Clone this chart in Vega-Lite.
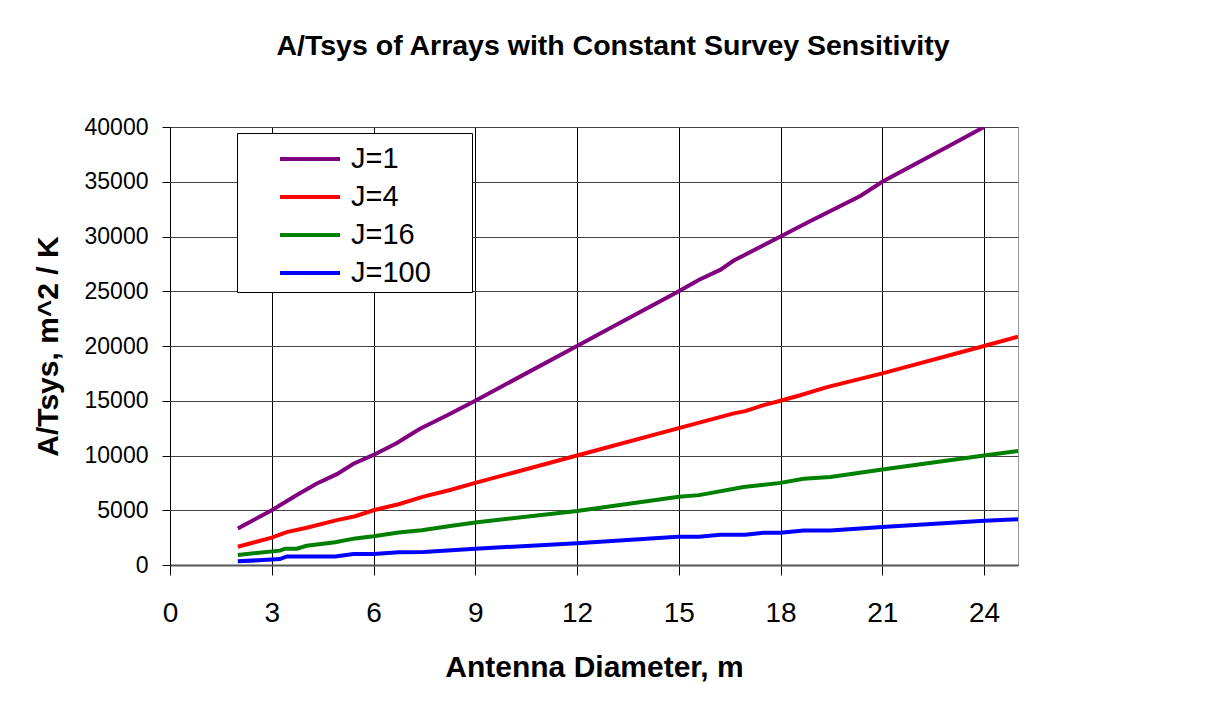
{
  "$schema": "https://vega.github.io/schema/vega-lite/v6.json",
  "width": 848,
  "height": 438,
  "autosize": {"type": "none"},
  "padding": {"left": 170, "top": 127, "right": 191, "bottom": 137},
  "background": "white",
  "title": {
    "text": "A/Tsys of Arrays with Constant Survey Sensitivity",
    "font": "Liberation Sans",
    "fontSize": 28.5,
    "fontWeight": "bold",
    "color": "black",
    "anchor": "middle",
    "dx": 19,
    "offset": 56
  },
  "config": {
    "view": {"stroke": "#999999", "strokeWidth": 1},
    "font": "Liberation Sans",
    "axis": {"labelColor": "black", "titleColor": "black", "labelFont": "Liberation Sans", "titleFont": "Liberation Sans"}
  },
  "data": {
    "values": [
      {"D": 2, "v": 3333, "s": "J=1"},
      {"D": 3, "v": 5000, "s": "J=1"},
      {"D": 3.74, "v": 6400, "s": "J=1"},
      {"D": 4.33, "v": 7450, "s": "J=1"},
      {"D": 4.92, "v": 8300, "s": "J=1"},
      {"D": 5.41, "v": 9250, "s": "J=1"},
      {"D": 6, "v": 10050, "s": "J=1"},
      {"D": 6.69, "v": 11150, "s": "J=1"},
      {"D": 7.37, "v": 12450, "s": "J=1"},
      {"D": 8.16, "v": 13650, "s": "J=1"},
      {"D": 9, "v": 15000, "s": "J=1"},
      {"D": 12, "v": 20000, "s": "J=1"},
      {"D": 12.68, "v": 21150, "s": "J=1"},
      {"D": 15, "v": 25000, "s": "J=1"},
      {"D": 15.6, "v": 26050, "s": "J=1"},
      {"D": 16.22, "v": 26950, "s": "J=1"},
      {"D": 16.62, "v": 27800, "s": "J=1"},
      {"D": 18, "v": 30000, "s": "J=1"},
      {"D": 18.78, "v": 31250, "s": "J=1"},
      {"D": 20.35, "v": 33700, "s": "J=1"},
      {"D": 21, "v": 35000, "s": "J=1"},
      {"D": 23.1, "v": 38500, "s": "J=1"},
      {"D": 24, "v": 40000, "s": "J=1"},

      {"D": 2, "v": 1667, "s": "J=4"},
      {"D": 3, "v": 2500, "s": "J=4"},
      {"D": 3.44, "v": 3000, "s": "J=4"},
      {"D": 4.03, "v": 3400, "s": "J=4"},
      {"D": 4.92, "v": 4100, "s": "J=4"},
      {"D": 5.46, "v": 4450, "s": "J=4"},
      {"D": 6, "v": 5000, "s": "J=4"},
      {"D": 6.74, "v": 5550, "s": "J=4"},
      {"D": 7.47, "v": 6250, "s": "J=4"},
      {"D": 8.26, "v": 6850, "s": "J=4"},
      {"D": 9, "v": 7500, "s": "J=4"},
      {"D": 12, "v": 10000, "s": "J=4"},
      {"D": 15, "v": 12500, "s": "J=4"},
      {"D": 16.62, "v": 13850, "s": "J=4"},
      {"D": 16.96, "v": 14050, "s": "J=4"},
      {"D": 17.5, "v": 14600, "s": "J=4"},
      {"D": 18, "v": 15000, "s": "J=4"},
      {"D": 18.58, "v": 15500, "s": "J=4"},
      {"D": 19.37, "v": 16250, "s": "J=4"},
      {"D": 21, "v": 17500, "s": "J=4"},
      {"D": 24, "v": 20000, "s": "J=4"},
      {"D": 25, "v": 20850, "s": "J=4"},

      {"D": 2, "v": 917, "s": "J=16"},
      {"D": 3.24, "v": 1310, "s": "J=16"},
      {"D": 3.39, "v": 1490, "s": "J=16"},
      {"D": 3.74, "v": 1490, "s": "J=16"},
      {"D": 4.03, "v": 1750, "s": "J=16"},
      {"D": 4.87, "v": 2070, "s": "J=16"},
      {"D": 5.46, "v": 2430, "s": "J=16"},
      {"D": 6, "v": 2630, "s": "J=16"},
      {"D": 6.74, "v": 2960, "s": "J=16"},
      {"D": 7.42, "v": 3180, "s": "J=16"},
      {"D": 8.26, "v": 3570, "s": "J=16"},
      {"D": 9, "v": 3880, "s": "J=16"},
      {"D": 12, "v": 4930, "s": "J=16"},
      {"D": 15, "v": 6230, "s": "J=16"},
      {"D": 15.6, "v": 6380, "s": "J=16"},
      {"D": 16.91, "v": 7130, "s": "J=16"},
      {"D": 18, "v": 7500, "s": "J=16"},
      {"D": 18.68, "v": 7880, "s": "J=16"},
      {"D": 19.47, "v": 8040, "s": "J=16"},
      {"D": 21, "v": 8730, "s": "J=16"},
      {"D": 24, "v": 10000, "s": "J=16"},
      {"D": 25, "v": 10420, "s": "J=16"},

      {"D": 2, "v": 333, "s": "J=100"},
      {"D": 3.24, "v": 540, "s": "J=100"},
      {"D": 3.44, "v": 780, "s": "J=100"},
      {"D": 4.87, "v": 780, "s": "J=100"},
      {"D": 5.41, "v": 1000, "s": "J=100"},
      {"D": 6, "v": 1000, "s": "J=100"},
      {"D": 6.74, "v": 1160, "s": "J=100"},
      {"D": 7.47, "v": 1190, "s": "J=100"},
      {"D": 9, "v": 1490, "s": "J=100"},
      {"D": 12, "v": 1980, "s": "J=100"},
      {"D": 14.97, "v": 2580, "s": "J=100"},
      {"D": 15.6, "v": 2580, "s": "J=100"},
      {"D": 16.22, "v": 2760, "s": "J=100"},
      {"D": 16.96, "v": 2760, "s": "J=100"},
      {"D": 17.5, "v": 2940, "s": "J=100"},
      {"D": 18, "v": 2940, "s": "J=100"},
      {"D": 18.68, "v": 3150, "s": "J=100"},
      {"D": 19.47, "v": 3150, "s": "J=100"},
      {"D": 21, "v": 3460, "s": "J=100"},
      {"D": 24, "v": 4030, "s": "J=100"},
      {"D": 25, "v": 4180, "s": "J=100"}
    ]
  },
  "mark": {"type": "line", "strokeWidth": 4, "clip": true},
  "encoding": {
    "x": {
      "field": "D",
      "type": "quantitative",
      "scale": {"domain": [0, 25], "nice": false, "zero": false},
      "axis": {
        "title": "Antenna Diameter, m",
        "values": [0, 3, 6, 9, 12, 15, 18, 21, 24],
        "labelFontSize": 28,
        "labelFlush": false,
        "tickSize": 10,
        "tickColor": "black",
        "labelPadding": 24,
        "domainColor": "#555555",
        "domainWidth": 2,
        "gridColor": "black",
        "gridOpacity": 1,
        "titleFontSize": 30,
        "titleFontWeight": "bold",
        "titlePadding": 25
      }
    },
    "y": {
      "field": "v",
      "type": "quantitative",
      "scale": {"domain": [0, 40000], "nice": false},
      "axis": {
        "title": "A/Tsys, m^2 / K",
        "values": [0, 5000, 10000, 15000, 20000, 25000, 30000, 35000, 40000],
        "format": "d",
        "labelFontSize": 23,
        "tickSize": 8,
        "tickColor": "black",
        "labelPadding": 14,
        "domainColor": "black",
        "gridColor": "#444444",
        "gridOpacity": 1,
        "titleFontSize": 30,
        "titleFontWeight": "bold",
        "titlePadding": 21
      }
    },
    "color": {
      "field": "s",
      "type": "nominal",
      "sort": ["J=1", "J=4", "J=16", "J=100"],
      "scale": {"domain": ["J=1", "J=4", "J=16", "J=100"], "range": ["#800080", "#FF0000", "#008000", "#0000FF"]},
      "legend": {
        "orient": "none",
        "legendX": 67,
        "legendY": 6,
        "title": null,
        "strokeColor": "black",
        "fillColor": "white",
        "padding": 4,
        "symbolType": "M-1.5,0H1.5",
        "symbolSize": 1600,
        "symbolStrokeWidth": 4,
        "symbolOffset": 47,
        "labelOffset": 19,
        "labelFontSize": 29,
        "labelColor": "black",
        "labelFont": "Liberation Sans",
        "rowPadding": 1,
        "labelExpr": "datum.label + '\u00a0\u00a0\u2800'"
      }
    }
  }
}
